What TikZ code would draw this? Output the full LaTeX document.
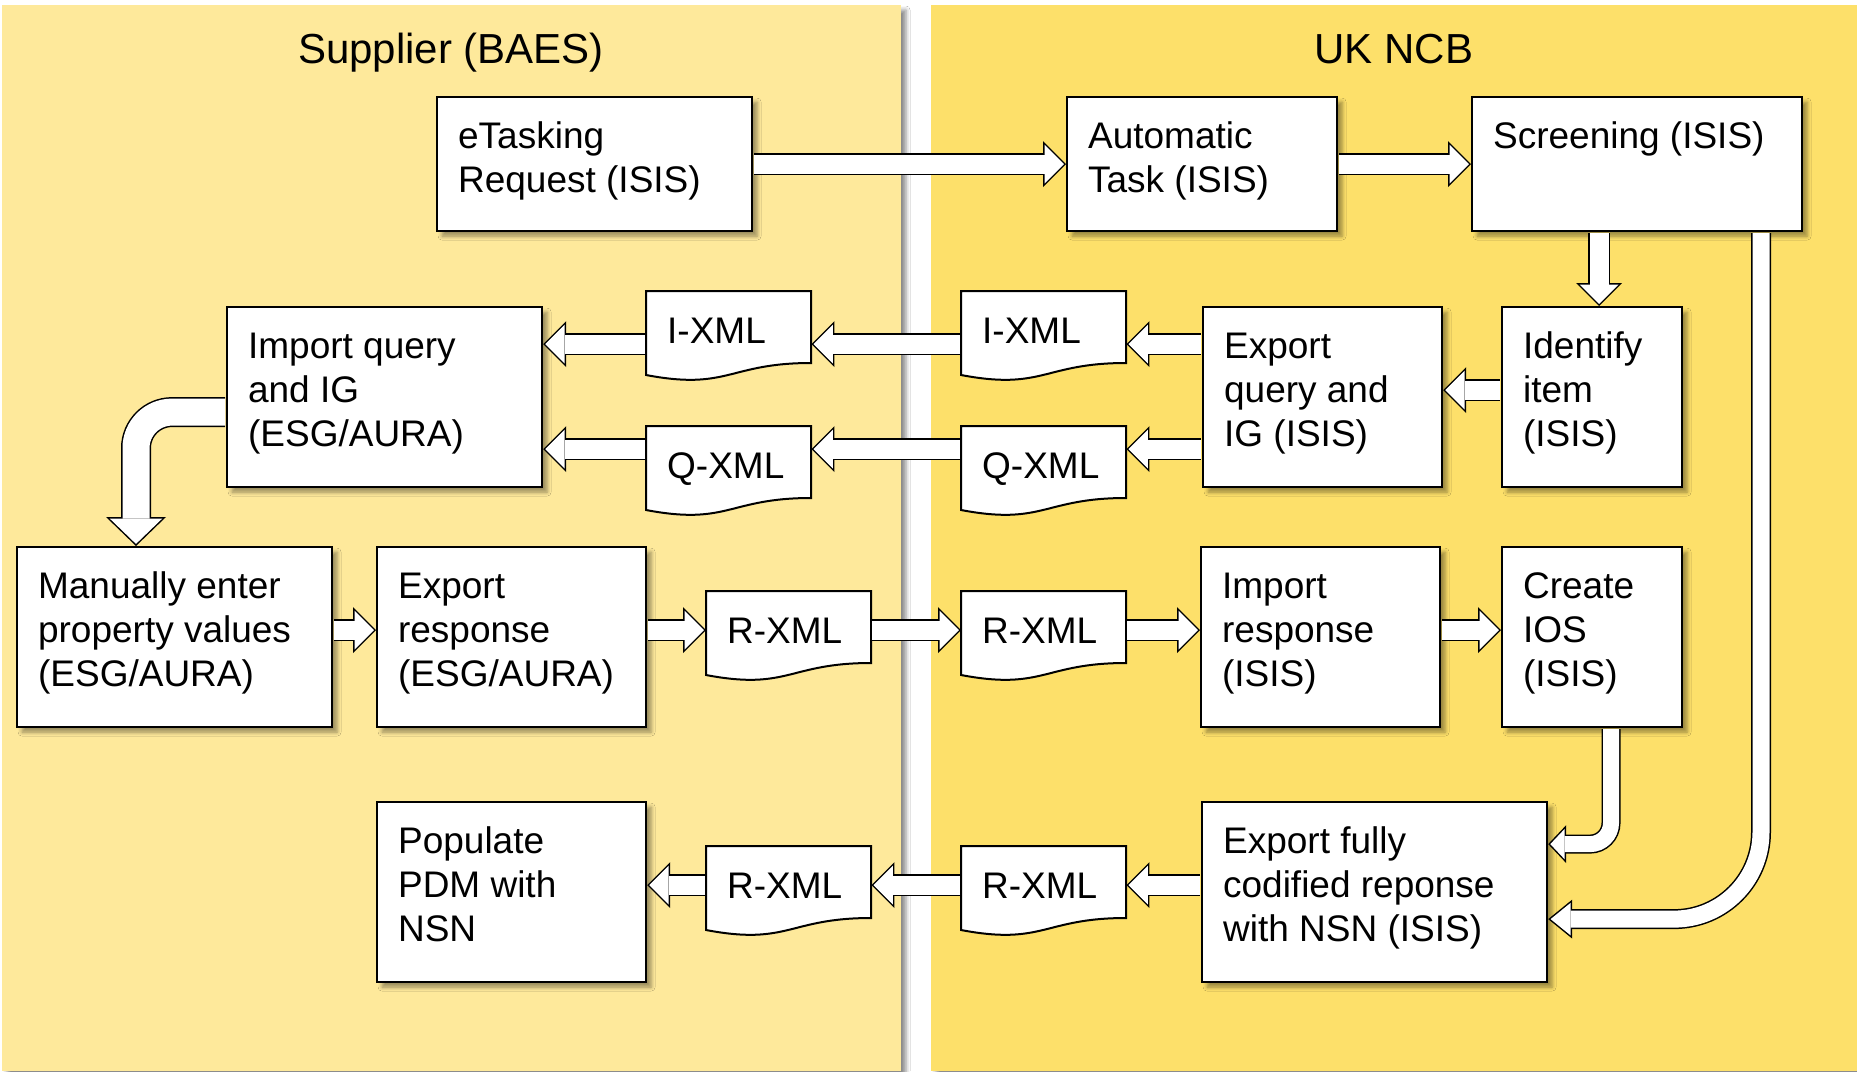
\documentclass[tikz,border=0pt]{standalone}
\usepackage{fontspec}
\setmainfont{Liberation Sans}
\usetikzlibrary{calc,arrows.meta,shadows.blur}
\definecolor{supfill}{RGB}{254,233,155}
\definecolor{ncbfill}{RGB}{253,224,106}
% text of a box, top left, W and H in px
\newcommand{\celltxt}[3]{\parbox[t][\dimexpr#2pt-42pt\relax][t]{\dimexpr#1pt-42pt\relax}{\raggedright\strut#3}}
\tikzset{
  panel/.style   = {blur shadow={shadow xshift=5pt, shadow yshift=-5pt, shadow blur radius=4pt, shadow opacity=45}},
  title/.style   = {font=\fontsize{42}{50}\selectfont, anchor=base},
  proc/.style    = {draw, line width=2.2pt, fill=white, anchor=north west, inner sep=21pt,
                    font=\fontsize{37}{44}\selectfont,
                    blur shadow={shadow xshift=5pt, shadow yshift=-5pt, shadow blur radius=4pt, shadow opacity=40}},
  docbox/.style  = {anchor=north west, inner sep=21pt, font=\fontsize{37}{44}\selectfont},
  docline/.style = {draw, line width=2pt, fill=white},
  fat/.style n args={7}{draw=white, line width=#4, -{Triangle[width=#5, length=#6, line width=0pt]},
                    shorten >=#7, shorten <=1pt,
                    preaction={draw=black, line width=#1, -{Triangle[width=#2, length=#3, line width=0pt]}, shorten >=0pt}},
  fatstd/.style  = {fat={22pt}{46pt}{23pt}{19pt}{38.8pt}{19.4pt}{2.1pt}},
  fatbig/.style  = {fat={30pt}{60pt}{29pt}{27pt}{52.6pt}{25.4pt}{2.1pt}, rounded corners=36pt},
  fatsml/.style  = {fat={19pt}{38pt}{18pt}{16pt}{30.5pt}{14.4pt}{2.1pt}, rounded corners=21pt},
  fatlong/.style = {fat={20pt}{39pt}{24pt}{17pt}{32.7pt}{20.1pt}{2.4pt}, rounded corners=87pt},
}

\begin{document}
\begin{tikzpicture}[x=1pt, y=-1pt]
  \useasboundingbox (0,0) rectangle (1857,1071);
  \fill[white] (0,0) rectangle (1857,1071);
  % swim lanes
  \fill[supfill, panel] (2,5) rectangle (901,1071);
  \fill[ncbfill, panel] (931,5) rectangle (1857,1071);
  \node[title] (supplier) at (451,63) {Supplier (BAES)};
  \node[title] (ncb) at (1394,63) {UK NCB};

  % xml documents
  \foreach \n/\x/\y/\t in {ixA/646/291/I-XML, ixB/961/291/I-XML, qxA/646/426/Q-XML, qxB/961/426/Q-XML,
                           rxA/706/591/R-XML, rxB/961/591/R-XML, rxC/706/846/R-XML, rxD/961/846/R-XML}{
    \draw[docline] (\x,\y) -- (\x+165,\y) -- (\x+165,\y+72)
      .. controls +(-82.5,0) and +(82.5,15.7) .. (\x,\y+84) -- cycle;
    \node[docbox] (\n) at (\x,\y) {\celltxt{165}{90}{\t}};
  }

  % process steps
  \node[proc] (etask)    at (436,96)   {\celltxt{315}{134}{eTasking\\Request (ISIS)}};
  \node[proc] (autotask) at (1066,96)  {\celltxt{270}{134}{Automatic\\Task (ISIS)}};
  \node[proc] (screen)   at (1471,96)  {\celltxt{330}{134}{Screening (ISIS)}};
  \node[proc] (impq)     at (226,306)  {\celltxt{315}{180}{Import query\\and IG\\(ESG/AURA)}};
  \node[proc] (expq)     at (1202,306) {\celltxt{239}{180}{Export\\query and\\IG (ISIS)}};
  \node[proc] (ident)    at (1501,306) {\celltxt{180}{180}{Identify\\item\\(ISIS)}};
  \node[proc] (manual)   at (16,546)   {\celltxt{315}{180}{Manually enter\\property values\\(ESG/AURA)}};
  \node[proc] (expr)     at (376,546)  {\celltxt{269}{180}{Export\\response\\(ESG/AURA)}};
  \node[proc] (impr)     at (1200,546) {\celltxt{239}{180}{Import\\response\\(ISIS)}};
  \node[proc] (ios)      at (1501,546) {\celltxt{180}{180}{Create\\IOS\\(ISIS)}};
  \node[proc] (pdm)      at (376,801)  {\celltxt{269}{180}{Populate\\PDM with\\NSN}};
  \node[proc] (expnsn)   at (1201,801) {\celltxt{345}{180}{Export fully\\codified reponse\\with NSN (ISIS)}};

  % flow
  \draw[fatstd] (etask.east) -- (autotask.west);
  \draw[fatstd] (autotask.east) -- (screen.west);
  \coordinate (dropA) at ($(ident.north)+(7,0)$);
  \draw[fatstd] (dropA |- screen.south) -- (dropA);
  \coordinate (rowId) at ($(ident.west)+(0,-7)$);
  \draw[fatstd] (rowId) -- (rowId -| expq.east);
  \coordinate (rowI) at ($(expq.west)+(0,-53)$);
  \coordinate (rowQ) at ($(expq.west)+(0,52)$);
  \foreach \a/\b in {expq/ixB, ixB/ixA, ixA/impq}
    \draw[fatstd] (rowI -| \a.west) -- (rowI -| \b.east);
  \foreach \a/\b in {expq/qxB, qxB/qxA, qxA/impq}
    \draw[fatstd] (rowQ -| \a.west) -- (rowQ -| \b.east);
  \coordinate (bendA) at ($(impq.west)+(0,15)$);
  \draw[fatbig] (bendA) -| ($(manual.north west)+(120,0)$);
  \coordinate (rowR) at ($(manual.east)+(0,-7)$);
  \foreach \a/\b in {manual/expr, expr/rxA, rxA/rxB, rxB/impr, impr/ios}
    \draw[fatstd] (rowR -| \a.east) -- (rowR -| \b.west);
  \draw[fatsml] ($(ios.south west)+(110,0)$) |- ($(expnsn.east)+(0,-48)$);
  \draw[fatlong] ($(screen.south west)+(290,0)$) |- ($(expnsn.east)+(0,27)$);
  \coordinate (rowN) at ($(expnsn.west)+(0,-7)$);
  \foreach \a/\b in {expnsn/rxD, rxD/rxC, rxC/pdm}
    \draw[fatstd] (rowN -| \a.west) -- (rowN -| \b.east);
\end{tikzpicture}
\end{document}
